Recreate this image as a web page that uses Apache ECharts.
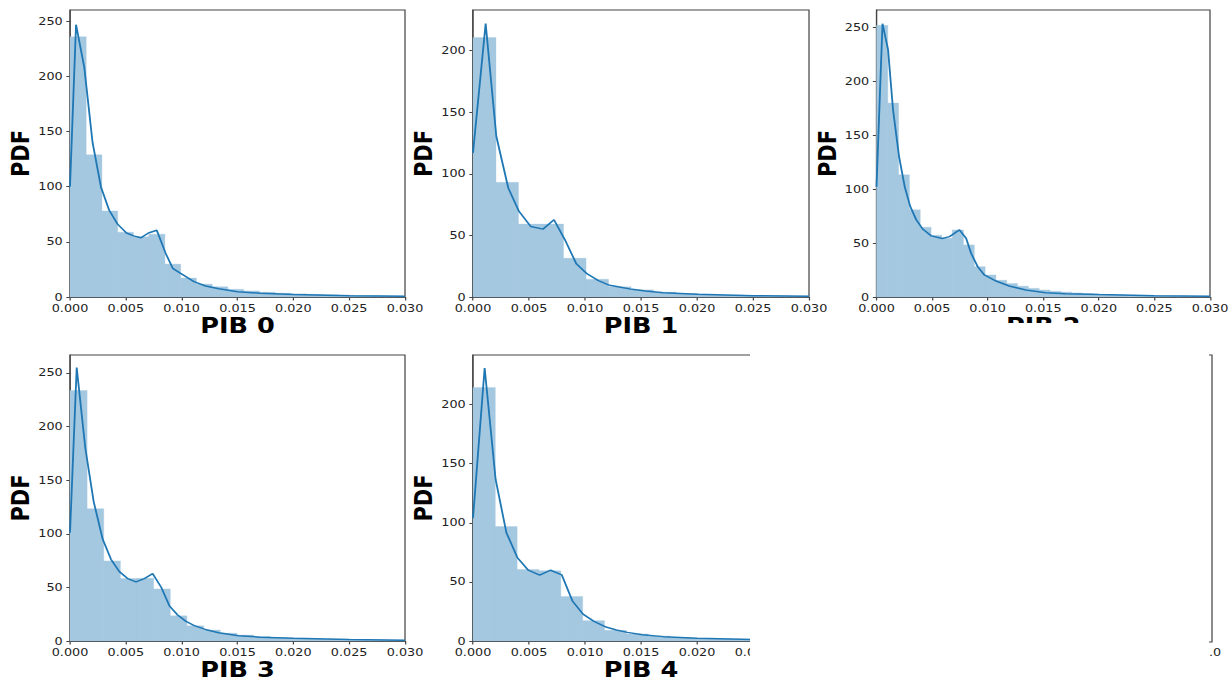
<!DOCTYPE html>
<html>
<head>
<meta charset="utf-8">
<script src="https://cdn.jsdelivr.net/npm/echarts@6/dist/echarts.min.js"></script>
<style>
html,body{margin:0;padding:0;background:#fff;}
#wrap{width:1232px;height:681px;overflow:hidden;position:relative;background:#fff;}
#c{height:681px;transform-origin:0 0;}
</style>
</head>
<body>
<div id="wrap"><div id="c"></div></div>
<script>
// ---------------- data ----------------
const panelNames = ['PIB 0', 'PIB 1', 'PIB 2', 'PIB 3', 'PIB 4'];
const yLabel = 'PDF';
const xTicks = [0, 0.005, 0.010, 0.015, 0.020, 0.025, 0.030];
const yTicks0 = [0, 50, 100, 150, 200, 250];
const yTicks1 = [0, 50, 100, 150, 200];
const yTicks2 = [0, 50, 100, 150, 200, 250];
const yTicks3 = [0, 50, 100, 150, 200, 250];
const yTicks4 = [0, 50, 100, 150, 200];
const yMax = [260, 233, 265.7, 266.7, 242];
const xMax = 0.030;

const binWidths = [0.00141, 0.00201, 0.000973, 0.00149, 0.00195];

const hist0 = [235.8, 128.9, 78, 58.7, 54.5, 56.9, 29.8, 17.2, 11.7, 9.3, 7.0, 5.5, 4.4, 3.5, 2.9, 2.4, 2.0, 1.7, 1.4, 1.2, 1.0, 0.8];
const hist1 = [210.6, 93.1, 59.2, 59.2, 31.5, 14.4, 8.3, 5.8, 4.0, 2.9, 2.1, 1.6, 1.2, 0.9, 0.7];
const hist2 = [251.5, 179.5, 113.1, 80.7, 64.6, 57.2, 54.4, 62.1, 48.2, 28.1, 20.4, 15.5, 12.5, 10, 8, 6.5, 5.3, 4.5, 3.8, 3.2, 2.7, 2.3, 2.0, 1.7, 1.5, 1.3, 1.1, 1.0, 0.9, 0.8, 0.7];
const hist3 = [233.6, 123.3, 74.7, 58.2, 58.5, 48.6, 23.5, 14.2, 10.2, 7.3, 5.5, 4.3, 3.3, 2.7, 2.2, 1.8, 1.5, 1.2, 1.0, 0.8, 0.7];
const hist4 = [214.6, 96.8, 60.5, 59.4, 37.7, 17.2, 9, 6, 4.2, 3, 2.2, 1.7, 1.3, 1.0, 0.8, 0.6];

const kde0 = [[0, 100], [0.00054, 246.7], [0.00128, 208], [0.00202, 140], [0.00277, 99.7], [0.00351, 78.6], [0.00426, 66], [0.00506, 58], [0.00570, 55.4], [0.00634, 53.6], [0.00702, 58], [0.00777, 60.5], [0.00857, 39.5], [0.00920, 26], [0.00991, 21.4], [0.0111, 13.9], [0.01214, 10], [0.01333, 7.5], [0.0150, 4.8], [0.0170, 3.4], [0.0200, 2.2], [0.0250, 1.1], [0.0300, 0.6]];
const kde1 = [[0, 117], [0.00113, 222], [0.00208, 130.5], [0.00315, 88.5], [0.00411, 69.5], [0.00515, 57.3], [0.00625, 55.1], [0.00723, 62.7], [0.00821, 46.4], [0.00923, 26.9], [0.0102, 18.7], [0.0112, 13.3], [0.0122, 9.5], [0.0132, 7.9], [0.0142, 6.2], [0.0154, 4.9], [0.0170, 3.5], [0.0200, 2.2], [0.0250, 1.1], [0.0300, 0.6]];
const kde2 = [[0, 102], [0.00054, 253], [0.00104, 229], [0.00149, 173], [0.00203, 130], [0.00254, 102], [0.00304, 83.7], [0.00358, 71.4], [0.00418, 62.7], [0.00493, 56.6], [0.00591, 54.1], [0.00657, 55.9], [0.00746, 62.1], [0.00806, 54.4], [0.00851, 40.5], [0.0091, 28.1], [0.0097, 20.4], [0.01075, 14.8], [0.01194, 10.2], [0.01343, 6.5], [0.01522, 4.0], [0.0170, 3.1], [0.0200, 2.2], [0.0250, 1.2], [0.0300, 0.6]];
const kde3 = [[0, 101], [0.0006, 255], [0.00137, 180], [0.00212, 130], [0.00293, 94.8], [0.00367, 76.2], [0.00442, 64.7], [0.00516, 58.2], [0.00591, 55.1], [0.00666, 58.2], [0.0074, 62.9], [0.00818, 49.9], [0.0089, 32.8], [0.00964, 24.2], [0.01039, 18.3], [0.01113, 14.3], [0.01212, 10.8], [0.01331, 7.7], [0.0151, 5.0], [0.0170, 3.6], [0.0200, 2.5], [0.0250, 1.3], [0.0300, 0.6]];
const kde4 = [[0, 104], [0.00104, 231], [0.00202, 136.7], [0.00298, 91.7], [0.00396, 70.6], [0.00494, 59.9], [0.00595, 55.7], [0.00693, 59.9], [0.00792, 56], [0.00887, 34], [0.00982, 22.8], [0.0108, 16.6], [0.01179, 12.1], [0.0128, 9.3], [0.01378, 7.3], [0.01512, 5.3], [0.0170, 3.7], [0.0200, 2.4], [0.0250, 1.2], [0.0300, 0.6]];

const hists = [hist0, hist1, hist2, hist3, hist4];
const kdes = [kde0, kde1, kde2, kde3, kde4];
const yTicks = [yTicks0, yTicks1, yTicks2, yTicks3, yTicks4];

// ---------------- layout (reference pixels) ----------------
const S = 1.22;                 // horizontal stretch of the reference picture
const W = 1232 / S;
document.getElementById('c').style.width = W + 'px';
document.getElementById('c').style.transform = 'scaleX(' + S + ')';

const boxes = [
  {l: 70, r: 405, t: 10, b: 297},
  {l: 473, r: 809, t: 10, b: 297},
  {l: 876.5, r: 1212, t: 10, b: 297},
  {l: 70, r: 405, t: 355, b: 642},
  {l: 473, r: 809, t: 355, b: 642}
];

const spine = '#444';
const barColor = '#a5c8e1';
const tickFont = {fontFamily: 'DejaVu Sans', fontSize: 10.5, color: '#222'};
const nameFont = {fontFamily: 'DejaVu Sans', fontSize: 21, fontWeight: 'bold', color: '#000'};

const grids = [], xAxes = [], yAxes = [], series = [];
boxes.forEach((bx, i) => {
  grids.push({
    left: bx.l / S, top: bx.t, width: (bx.r - bx.l) / S, height: bx.b - bx.t,
    show: true, borderColor: spine, borderWidth: 1, backgroundColor: 'transparent'
  });
  xAxes.push({
    type: 'value', gridIndex: i, min: 0, max: xMax, interval: 0.005,
    axisLine: {show: true, lineStyle: {color: spine, width: 1}},
    axisTick: {show: true, length: 3.5, lineStyle: {color: spine}, customValues: xTicks},
    axisLabel: Object.assign({customValues: xTicks, margin: 6, formatter: v => v.toFixed(3)}, tickFont),
    splitLine: {show: false},
    name: panelNames[i], nameLocation: 'middle', nameGap: 18, nameTextStyle: nameFont
  });
  yAxes.push({
    type: 'value', gridIndex: i, min: 0, max: yMax[i],
    axisLine: {show: true, lineStyle: {color: spine, width: 1}},
    axisTick: {show: true, length: 3, lineStyle: {color: spine}, customValues: yTicks[i]},
    axisLabel: Object.assign({customValues: yTicks[i], margin: 6}, tickFont),
    splitLine: {show: false},
    name: yLabel, nameLocation: 'middle', nameRotate: 90, nameGap: 29, nameTextStyle: nameFont
  });
  const w = binWidths[i];
  series.push({
    type: 'custom', xAxisIndex: i, yAxisIndex: i, z: 2,
    data: hists[i].map((h, k) => [k * w, (k + 1) * w, h]),
    encode: {x: [0, 1], y: 2},
    renderItem: function (params, api) {
      const p0 = api.coord([api.value(0), api.value(2)]);
      const p1 = api.coord([api.value(1), 0]);
      const cs = params.coordSys;
      const shape = echarts.graphic.clipRectByRect(
        {x: p0[0], y: p0[1], width: p1[0] - p0[0] + 0.4, height: p1[1] - p0[1]},
        {x: cs.x, y: cs.y, width: cs.width, height: cs.height});
      return shape && {type: 'rect', shape: shape, style: {fill: barColor, stroke: barColor, lineWidth: 0.3}};
    }
  });
  series.push({
    type: 'line', xAxisIndex: i, yAxisIndex: i, z: 3,
    data: kdes[i], showSymbol: false, clip: true, smooth: false,
    lineStyle: {color: '#1f77b4', width: 1.5}, itemStyle: {color: '#1f77b4'}
  });
});

const chart = echarts.init(document.getElementById('c'), null, {renderer: 'svg', width: W, height: 681});
chart.setOption({
  animation: false,
  backgroundColor: '#fff',
  grid: grids, xAxis: xAxes, yAxis: yAxes, series: series,
  graphic: [
    {type: 'rect', z: 100, shape: {x: 750 / S, y: 323, width: (1232 - 750) / S, height: 681 - 323}, style: {fill: '#fff'}},
    {type: 'polyline', z: 101, shape: {points: [[1209 / S, 355], [1212 / S, 355], [1212 / S, 642], [1209 / S, 642]]}, style: {stroke: spine, lineWidth: 1, fill: null}},
    {type: 'text', z: 101, x: 1209 / S, y: 647, style: {text: '.0', fontFamily: 'DejaVu Sans', fontSize: 10.5, fill: '#222', textAlign: 'left', textVerticalAlign: 'top'}}
  ]
});
</script>
</body>
</html>
